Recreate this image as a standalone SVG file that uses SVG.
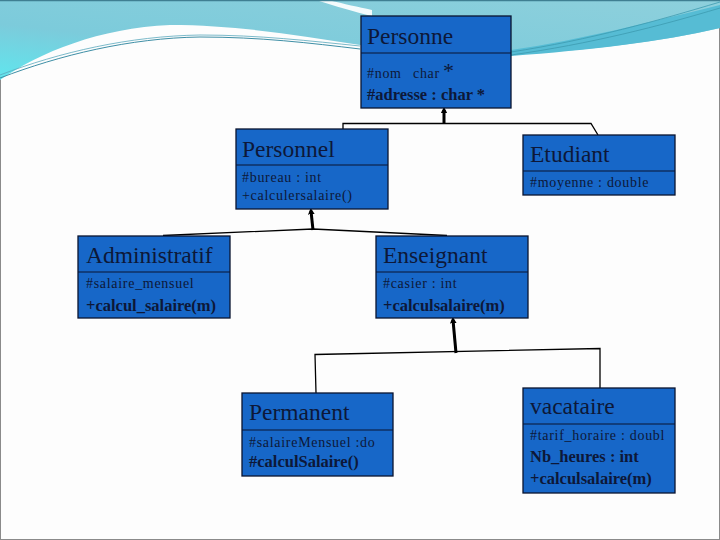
<svg xmlns="http://www.w3.org/2000/svg" width="720" height="540" viewBox="0 0 720 540">
<defs>
<linearGradient id="tealL" x1="0" y1="1" x2="1" y2="0">
<stop offset="0" stop-color="#5fe6ee"/>
<stop offset="0.35" stop-color="#7ccbdb"/>
<stop offset="1" stop-color="#8ed0dc"/>
</linearGradient>
<marker id="tip" viewBox="0 0 6 6" refX="3" refY="3" markerWidth="2.2" markerHeight="2.2" orient="auto">
<path d="M0,0 L6,3 L0,6 Z" fill="#000"/>
</marker>
<style>
.box{fill:#1767c8;stroke:#0a1430;stroke-width:1.3}
.div{stroke:#0a1430;stroke-width:1.2}
.title{font-family:"Liberation Serif","Times New Roman",serif;font-size:23.5px;fill:#0d1838}
.attr{font-family:"Liberation Serif","Times New Roman",serif;font-size:14px;letter-spacing:0.7px;fill:#0d1838}
.bold{font-family:"Liberation Serif","Times New Roman",serif;font-size:16.5px;font-weight:bold;fill:#0d1838}
.thin{fill:none;stroke:#000;stroke-width:1.3}
.thick{fill:none;stroke:#000;stroke-width:3;marker-end:url(#tip)}
</style>
</defs>
<g id="background">
<rect x="0.5" y="0.5" width="719" height="539" fill="#fdfdfd" stroke="#8a8a8a" stroke-width="1"/>
<path d="M0,0 H720 V28 C660,42 590,50 520,54 C450,56 400,52 360,45 C300,36 240,25 170,25 C100,28 40,52 0,80 Z" fill="url(#tealL)"/>
<path d="M316,0 L328,0 C345,4 358,7 372,10 L372,16 C355,12 335,6 316,0 Z" fill="#f4fbfc"/>
<path d="M511,50 C580,40 650,22 720,5 V28 C660,42 590,50 511,56 Z" fill="#56bcd4"/>
<path d="M0,78 C60,55 130,38 200,37 C260,37 310,43 360,49" fill="none" stroke="#3f8fa6" stroke-width="1"/>
<path d="M0,75 C60,52 130,36 200,35 C260,35 310,41 360,46" fill="none" stroke="#5aa8bc" stroke-width="0.8"/>
<path d="M511,52 C590,40 660,20 720,2" fill="none" stroke="#3c9bb0" stroke-width="0.8"/>
<path d="M511,55 C590,44 660,26 720,8" fill="none" stroke="#3c9bb0" stroke-width="0.8"/>
<line x1="0" y1="0.5" x2="720" y2="0.5" stroke="#3f7f92" stroke-width="1.5"/>
</g>
<g id="connectors">
<path class="thick" d="M444,124 L444,110"/>
<path class="thin" d="M343,130 L343,123.5 L591,123.5 L598,135"/>
<path class="thick" d="M313,230 L311,211"/>
<path class="thin" d="M163,235.5 L313,229 L447,235.5"/>
<path class="thick" d="M456,353 L453,320"/>
<path class="thin" d="M316,393 L315,354.5 L600,348.5 L600,388"/>
</g>
<g id="Personne">
<rect class="box" x="361" y="16" width="150" height="92"/>
<line class="div" x1="361" y1="53" x2="511" y2="53"/>
<text class="title" x="367" y="44">Personne</text>
<text class="attr" x="367" y="78">#nom<tspan x="413">char</tspan><tspan x="443" font-size="22" letter-spacing="0">*</tspan></text>
<text class="bold" x="367" y="100">#adresse : char *</text>
</g>
<g id="Personnel">
<rect class="box" x="236" y="129" width="152" height="80"/>
<line class="div" x1="236" y1="165" x2="388" y2="165"/>
<text class="title" x="242" y="157">Personnel</text>
<text class="attr" x="242" y="182">#bureau : int</text>
<text class="attr" x="242" y="200">+calculersalaire()</text>
</g>
<g id="Etudiant">
<rect class="box" x="523" y="135" width="152" height="60"/>
<line class="div" x1="523" y1="171" x2="675" y2="171"/>
<text class="title" x="530" y="162">Etudiant</text>
<text class="attr" x="530" y="187">#moyenne : double</text>
</g>
<g id="Administratif">
<rect class="box" x="78" y="236" width="152" height="82"/>
<line class="div" x1="78" y1="272" x2="230" y2="272"/>
<text class="title" x="86" y="263">Administratif</text>
<text class="attr" x="86" y="288">#salaire_mensuel</text>
<text class="bold" x="86" y="311">+calcul_salaire(m)</text>
</g>
<g id="Enseignant">
<rect class="box" x="376" y="236" width="152" height="82"/>
<line class="div" x1="376" y1="272" x2="528" y2="272"/>
<text class="title" x="383" y="263">Enseignant</text>
<text class="attr" x="383" y="288">#casier : int</text>
<text class="bold" x="383" y="311">+calculsalaire(m)</text>
</g>
<g id="Permanent">
<rect class="box" x="242" y="393" width="151" height="83"/>
<line class="div" x1="242" y1="430" x2="393" y2="430"/>
<text class="title" x="249" y="420">Permanent</text>
<text class="attr" x="249" y="447">#salaireMensuel :do</text>
<text class="bold" x="249" y="467">#calculSalaire()</text>
</g>
<g id="vacataire">
<rect class="box" x="523" y="388" width="152" height="105"/>
<line class="div" x1="523" y1="424" x2="675" y2="424"/>
<text class="title" x="530" y="414">vacataire</text>
<text class="attr" x="530" y="440">#tarif_horaire : doubl</text>
<text class="bold" x="530" y="462">Nb_heures : int</text>
<text class="bold" x="530" y="484">+calculsalaire(m)</text>
</g>
</svg>
